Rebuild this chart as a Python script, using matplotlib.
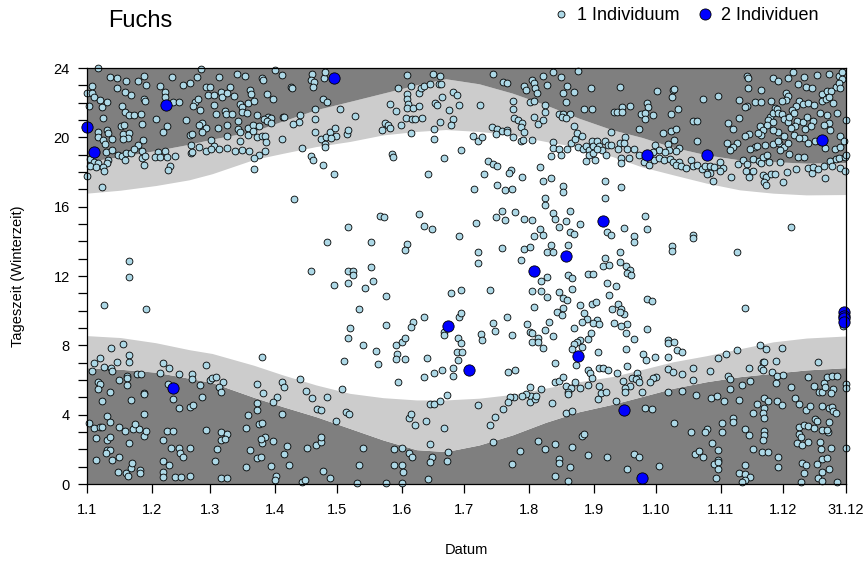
import matplotlib
matplotlib.use("Agg")
import matplotlib.pyplot as plt
from matplotlib.lines import Line2D

# ---------------- axis definitions ----------------
tick_days = [0, 31, 59, 90, 120, 151, 181, 212, 243, 273, 304, 334, 364]
tick_labels = ["1.1", "1.2", "1.3", "1.4", "1.5", "1.6", "1.7", "1.8", "1.9",
               "1.10", "1.11", "1.12", "31.12"]
hour_major = [0, 4, 8, 12, 16, 20, 24]
hour_labels = ["0", "4", "8", "12", "16", "20", "24"]

# ---------------- twilight bands ----------------
band_days = [0, 16, 33, 49, 60, 80, 94, 110, 126, 142, 158, 172, 188, 204,
             220, 236, 252, 266, 281, 297, 313, 329, 345, 364]
dawn = [6.71, 6.62, 6.45, 6.1, 5.85, 5.0, 4.46, 3.88, 3.21, 2.54, 1.98, 1.87,
        2.25, 2.83, 3.56, 4.17, 4.6, 5.04, 5.52, 5.9, 6.19, 6.39, 6.58, 6.71]
sunrise = [8.56, 8.45, 8.15, 7.75, 7.53, 6.85, 6.29, 5.71, 5.23, 4.98, 4.85, 4.85,
           4.95, 5.17, 5.53, 5.9, 6.2, 6.6, 7.05, 7.4, 7.8, 8.2, 8.42, 8.54]
sunset = [16.78, 16.95, 17.22, 17.55, 17.9, 18.72, 19.08, 19.47, 19.76, 20.14,
          20.34, 20.45, 20.34, 20.14, 19.76, 19.43, 18.89, 18.3, 17.84, 17.36,
          16.97, 16.78, 16.68, 16.7]
dusk = [18.6, 18.89, 19.24, 19.6, 19.9, 20.35, 20.95, 21.6, 22.07, 22.55, 23.03,
        23.38, 23.09, 22.55, 21.87, 21.1, 20.43, 20.0, 19.43, 18.99, 18.7, 18.6,
        18.51, 18.55]

# ---------------- detections, 1 individual (day of year, hour) ----------------
ind1_winter_evening = [
 (5.4,24.0),(11.0,23.47),(14.5,23.45),(18.5,23.24),(24.3,23.24),(27.5,23.53),(40.6,23.49),(52.6,23.47),(54.5,23.95),(63.4,23.49),(71.9,23.66),(75.9,23.55),
 (2.6,22.97),(14.5,22.83),(28.3,23.03),(35.1,22.97),(46.0,23.03),(49.4,23.16),(56.9,22.93),(58.9,22.89),(68.4,22.93),(78.4,22.74),(64.1,22.62),(37.4,22.6),(0.2,22.55),(18.2,22.6),
 (2.2,22.53),(3.5,22.3),(6.4,22.18),(9.4,22.03),(58.1,22.47),(60.7,22.43),(64.9,22.35),(67.3,22.57),(70.5,22.39),(78.6,22.49),(21.1,22.43),(27.3,22.24),(27.8,22.12),(37.2,22.32),(41.2,22.01),(44.3,22.05),(51.8,22.03),(53.4,22.2),(61.0,21.87),(73.3,21.95),(77.3,21.97),(1.0,21.78),(7.3,21.74),(16.6,21.8),(50.8,21.8),
 (54.2,21.58),(74.1,21.74),(66.1,21.53),(66.9,21.32),(69.5,21.32),(62.0,21.37),(74.1,21.47),(76.8,21.39),(18.4,21.49),(20.1,21.28),(22.5,21.26),(25.7,21.37),(7.5,21.14),(33.1,21.07),(47.4,20.99),(72.4,20.97),
 (26.5,20.78),(16.1,20.66),(17.7,20.7),(38.2,20.66),(55.3,20.84),(53.7,20.7),(57.2,20.53),(62.9,20.55),(67.1,20.7),(72.2,20.47),(77.3,20.55),(79.6,20.7),(9.4,20.45),(9.9,20.26),(5.4,20.28),(17.1,20.2),(20.3,20.24),(19.5,19.99),(36.6,20.28),(49.4,20.14),(50.5,20.22),(55.0,20.28),(67.1,20.05),(73.3,20.28),(77.3,20.12),(5.1,20.03),
 (7.5,19.84),(26.7,19.87),(12.1,19.9),(17.4,19.89),(8.6,19.59),(24.3,19.55),(59.3,19.85),(73.5,19.76),(49.7,19.53),(53.8,19.45),(60.9,19.51),(67.1,19.39),(8.9,19.18),(12.1,19.28),(15.0,18.99),(16.6,18.95),(18.7,19.08),(21.1,19.08),(26.5,19.22),(26.2,18.8),(22.5,19.32),(28.0,18.91),(33.9,19.18),(32.6,18.89),(35.0,18.87),(37.4,19.22),(38.3,18.89),(42.3,18.95),(49.7,19.07),(50.5,19.18),(56.9,19.22),(59.7,19.32),(63.3,19.32),(70.9,19.24),(74.1,19.28),(77.8,19.24),(18.2,18.7),(10.2,18.7),
 (1.4,18.76),(3.5,18.59),(5.4,18.53),(9.4,18.53),(1.3,18.32),(4.2,18.26),(7.5,18.26),(8.3,18.08),(27.5,18.41),(39.8,18.32),(38.7,18.14),(0.0,17.78),(7.3,17.12),(80.0,18.2),
]
ind1_spring_evening = [
 (90.3,23.87),(83.8,23.45),(84.6,23.3),(93.7,23.59),(107.8,23.64),(107.4,23.32),(109.0,23.18),(108.6,22.93),(113.7,23.43),(114.3,23.78),(97.7,22.91),(98.5,22.84),(86.5,22.51),(89.2,22.2),(80.3,22.07),(113.3,22.2),(115.3,22.01),(109.4,21.62),(121.5,21.62),(128.7,21.22),(102.2,21.3),(101.5,20.91),(98.6,20.76),(93.9,21.18),(94.7,21.16),(87.0,21.2),(88.1,21.12),(84.9,21.05),(86.2,20.95),(88.1,20.85),(81.4,21.3),(82.7,20.68),(109.5,21.05),(109.4,20.3),(79.5,20.37),(81.6,20.01),(83.8,20.05),(85.4,20.09),(85.7,19.72),(93.7,19.89),(112.2,19.91),(114.5,20.03),(116.5,20.28),(118.8,20.51),(119.6,20.05),(117.0,19.99),(114.3,19.6),(114.1,19.47),(124.5,20.22),(125.2,20.41),(103.3,19.37),(85.4,19.24),(82.4,18.99),(80.3,18.8),(107.6,18.95),(108.6,18.68),(113.3,18.39),(118.6,17.87),(99.4,16.43),
 (141.6,20.41),(142.9,20.82),(144.2,20.74),(145.4,20.51),(145.3,21.91),(148.2,21.53),(149.3,22.86),(153.4,23.59),(153.3,22.49),(153.6,22.2),(153.9,21.93),(153.3,21.72),(156.5,21.68),(159.4,21.78),(152.8,21.1),(155.7,21.07),(157.4,21.05),(160.5,21.1),(155.5,22.97),(159.2,22.57),(160.1,22.86),(161.6,22.99),(164.5,23.05),(165.7,23.64),(169.4,23.55),(168.6,23.07),(169.6,23.07),(170.2,22.32),(166.9,21.97),(167.7,21.89),(169.3,20.87),(150.7,20.72),(155.5,20.24),(166.5,20.49),(166.4,19.89),(146.3,19.05),(146.6,18.89),(171.3,18.8),(163.7,17.87),
]
ind1_summer_evening = [
 (194.5,23.64),(199.7,23.18),(201.6,23.12),(209.6,22.99),(210.5,22.72),(213.6,23.32),(214.5,23.16),(214.8,22.87),(215.6,22.55),(218.8,23.55),(220.7,23.01),(223.6,23.76),(227.5,23.49),(235.6,23.8),(230.0,22.97),(228.4,22.55),(233.5,22.6),(241.7,22.84),(255.6,22.91),(229.5,22.01),(212.4,22.03),(214.5,22.09),(204.5,22.09),(204.5,21.62),(219.6,21.87),(219.6,21.49),(238.5,21.62),(242.0,21.62),(252.7,21.49),(254.4,21.49),(256.4,21.74),(256.7,21.49),(260.5,21.8),(265.9,21.35),(264.8,20.49),(226.5,21.35),(228.4,21.35),(231.8,21.37),(227.6,21.2),(229.7,21.09),(233.7,20.68),(175.7,22.6),(177.6,22.47),(178.6,21.87),(173.6,21.58),(188.6,21.87),(175.7,21.05),(174.6,20.7),(204.9,21.09),(206.5,20.99),(208.8,20.84),(208.0,20.6),(214.5,21.16),(216.4,20.78),(218.7,21.01),(194.4,20.62),(196.8,20.49),(198.9,20.39),(201.4,20.45),(201.6,20.28),(196.0,20.2),(209.7,20.28),(185.0,20.07),(187.7,19.8),(189.6,20.01),(204.5,20.01),(208.0,19.78),(209.2,19.82),(213.6,19.84),(179.4,19.28),(223.6,19.74),(222.5,18.93),(223.6,19.39),(226.3,19.32),(227.3,18.97),(230.0,19.32),(232.1,19.66),(234.0,19.89),(234.8,20.24),(237.2,20.09),
 (235.6,19.43),(237.7,19.32),(239.1,19.51),(240.7,19.28),(242.0,19.78),(242.8,19.51),(244.4,19.78),(245.7,19.51),(246.8,19.28),(248.4,19.78),(249.7,19.55),(251.3,19.55),(248.7,18.99),(243.6,18.7),(239.4,18.63),(240.7,18.99),(242.8,19.08),(244.4,19.32),
 (251.3,20.32),(255.6,19.66),(258.0,20.01),(257.5,19.7),(254.8,19.32),(258.8,19.32),(262.4,19.32),(264.8,18.99),(256.0,18.8),(260.0,18.8),(255.9,18.51),(192.5,18.66),(194.5,18.49),(196.8,18.32),(203.2,18.12),(202.4,17.97),(190.5,17.87),(208.8,17.7),(217.4,18.28),(222.5,17.64),(218.8,17.47),(196.8,17.26),(200.5,16.97),(203.6,17.03),(185.8,17.03),(228.4,17.22),(228.4,16.84),(248.5,17.49),(255.9,17.12),(248.5,16.51),(219.6,16.49),(219.6,16.1),
]
ind1_autumn_evening = [
 (338.7,23.76),(349.9,23.62),(355.9,23.66),(360.7,23.55),(362.3,23.78),(362.3,23.37),(316.3,23.51),(317.1,23.45),(328.8,23.41),(331.5,23.24),(336.3,23.45),(344.0,23.47),(340.8,23.07),(344.6,22.93),(347.5,22.86),(359.0,22.89),(360.6,23.16),(316.8,22.84),(323.0,22.74),(273.5,22.7),(280.9,22.72),(281.5,22.78),(280.4,22.35),(295.6,22.2),(302.7,22.39),(335.0,22.55),(336.3,22.39),(335.2,22.16),(352.3,22.49),(354.7,22.68),(356.7,22.68),(361.0,22.84),(268.4,21.97),(269.0,21.76),(283.6,21.62),(279.9,21.35),(312.6,22.14),(316.3,21.82),(315.5,21.76),(320.5,22.03),(323.3,22.03),(327.8,22.07),(329.9,21.68),(333.1,22.07),(341.6,22.1),(340.0,21.82),(343.5,21.91),(345.9,21.97),(348.6,21.84),(352.7,22.1),(354.3,22.2),(355.9,22.32),(357.9,21.97),
 (267.4,21.39),(267.4,21.05),(271.6,21.28),(290.8,20.95),(292.7,20.95),(307.5,20.85),(309.9,20.47),(312.6,21.09),(327.5,21.2),(329.1,21.43),(330.7,21.66),(331.5,21.39),(333.1,21.34),(326.7,21.01),(329.1,20.91),(325.9,20.72),(334.2,21.05),(336.3,20.91),(337.9,21.58),(336.8,21.2),(339.3,21.39),(340.3,20.97),(343.2,20.89),(345.1,21.2),(348.0,20.95),(347.0,20.66),(344.3,20.47),(339.5,20.68),(337.4,20.53),(351.5,21.39),(355.1,21.3),(355.9,20.85),(359.9,21.43),(356.3,20.45),(353.5,20.7),(363.8,20.99),(361.0,20.05),(322.7,20.66),(324.3,20.45),(323.0,20.14),(321.9,20.24),(317.4,20.2),(315.5,20.05),(307.1,19.7),(311.5,19.66),(309.6,19.43),(308.3,19.28),(276.1,20.24),(280.1,20.39),(282.5,20.47),(292.7,19.8),(278.8,19.62),(281.5,19.85),(284.0,19.37),(282.5,19.2),(279.3,19.28),(272.4,19.55),(274.5,19.28),(277.2,19.18),(271.3,19.16),
 (267.1,18.6),(269.7,18.39),(272.1,18.7),(274.5,18.82),(276.9,18.7),(279.6,18.76),(281.2,18.6),(284.0,18.6),(282.5,18.41),(284.8,18.32),(287.2,18.22),(289.6,18.7),(290.4,18.36),(292.7,18.41),(294.8,18.18),(296.4,18.36),(298.7,18.32),(300.8,18.28),(303.5,18.55),(304.8,18.22),(303.5,18.03),(298.7,17.93),(300.0,17.49),(297.1,17.87),(308.7,17.7),(312.3,18.47),(314.7,18.7),(316.6,18.47),(319.5,18.74),(322.2,18.66),(323.0,18.51),(324.0,18.86),(316.0,18.03),(319.5,18.07),(317.6,17.7),(324.0,17.84),(325.6,17.74),(324.6,17.45),(325.6,17.24),(327.8,17.89),(329.9,17.87),(333.6,17.43),(335.5,18.01),(340.0,18.18),(327.2,18.59),(332.3,18.6),(336.8,19.01),(340.8,18.89),(343.8,18.86),(345.9,18.22),(347.5,17.97),(348.3,18.28),(350.7,18.16),(353.5,18.36),(356.3,18.66),(359.1,18.74),(360.6,18.8),(353.9,17.64),(357.5,18.32),(361.0,18.22),(363.4,18.07),(325.1,19.57),(328.8,19.62),(332.0,19.66),(334.2,19.43),(336.3,19.7),(332.3,19.28),(325.9,18.99),(320.3,19.47),(321.1,19.51),(317.9,19.32),(343.8,19.95),(345.9,19.7),(349.0,19.76),(353.9,19.41),(358.7,19.34),(363.4,18.89),(362.9,19.76),(361.0,19.47),(364.0,18.99),(339.2,20.14),(341.6,19.95),(334.4,20.05),(331.5,20.28),(328.8,20.43),(331.5,19.76),
]
ind1_daytime = [
 (20.3,12.85),(20.3,11.93),(8.3,10.33),(28.3,10.08),(11.3,7.83),(17.4,8.06),
 (140.5,15.47),(142.4,15.39),(159.4,15.58),(161.6,14.87),(165.4,14.7),(125.3,14.81),(115.3,13.95),(136.3,13.95),(153.6,13.83),(152.6,13.5),(107.6,12.27),(125.3,12.27),(127.7,12.27),(127.7,12.06),(136.3,12.5),(118.6,11.47),(125.3,11.58),(133.5,11.31),(137.3,11.7),(143.5,10.83),(130.6,10.08),(161.7,9.62),(126.3,8.98),(125.3,8.41),(143.5,9.16),(156.5,9.33),(155.5,9.04),(132.5,8.02),(138.7,7.66),(148.3,8.02),(150.9,8.22),(152.6,8.43),(148.5,7.48),(171.3,8.79),(171.3,8.6),
 (198.9,15.73),(196.0,15.39),(200.6,15.22),(205.4,15.68),(209.7,15.27),(213.6,15.22),(223.6,15.64),(224.6,15.27),(226.5,14.81),(229.8,15.16),(231.8,15.73),(231.6,14.56),(233.7,14.41),(236.6,14.98),(249.5,14.56),(251.4,14.35),(257.6,14.75),(262.4,14.31),(262.4,13.95),(186.6,15.06),(178.6,14.29),(187.7,13.37),(187.7,12.73),(198.9,13.6),(209.6,13.56),(212.6,13.68),(214.5,14.29),(217.4,14.7),(218.8,14.37),(208.1,12.93),(220.4,13.37),(222.5,13.79),(223.6,13.37),(230.8,13.77),(220.7,11.95),(217.5,11.72),(213.6,11.14),(217.5,11.14),(220.7,10.79),(214.5,10.23),(226.5,11.06),(228.4,10.72),(230.0,10.64),(230.8,12.06),(232.7,11.87),(232.7,11.25),(240.4,12.1),(242.8,12.1),(248.5,13.02),(247.6,12.6),(250.5,12.62),(255.6,13.37),(255.7,12.79),(258.4,12.6),(260.5,12.35),(258.8,12.16),(260.7,12.06),(249.5,11.58),(250.5,10.91),(253.8,11.43),(254.8,10.37),(255.9,10.1),(257.6,9.79),(251.6,10.08),(255.6,9.91),(242.0,10.37),(243.9,10.48),(236.6,10.33),(238.5,9.85),(239.6,9.52),(237.5,9.33),(244.4,9.47),(242.8,9.27),(245.7,9.22),(258.8,9.23),(255.9,9.12),(252.9,9.27),(258.6,8.7),(262.3,8.37),(258.4,7.79),(225.4,9.91),(228.4,10.14),(227.6,9.75),(221.7,9.37),(219.6,8.87),(223.6,8.54),(210.8,9.23),(212.6,8.77),(213.6,8.72),(216.4,8.41),(213.6,8.22),(216.4,8.18),(218.7,7.83),(233.7,8.98),(236.4,8.31),(234.8,8.22),(233.7,8.06),(232.7,7.79),(237.2,7.93),(240.1,8.37),(241.7,8.7),(203.6,8.6),(201.6,9.64),(194.5,9.27),(195.7,8.83),(188.8,8.68),(189.6,8.31),(193.3,11.18),(174.6,11.04),(179.4,11.18),(178.6,9.66),(179.4,9.87),(178.1,8.41),(179.4,8.12),(177.6,7.64),(179.7,7.64),(244.9,7.64),
 (267.8,15.45),(268.7,14.7),(290.8,14.37),(290.8,14.18),(280.7,13.75),(280.7,13.45),(311.8,13.37),(337.7,14.81),(268.7,10.66),(270.8,10.58),(315.7,10.14),(268.7,8.93),(278.8,8.29),(278.8,8.14),(281.5,8.22),(282.8,7.73),(285.5,7.62),(266.5,7.48),(322.7,8.02),(325.6,7.77),(333.1,7.83),(311.8,7.72),(306.4,7.48),(362.6,9.12),
]
ind1_winter_morning = [
 (20.3,7.44),(20.3,7.02),(6.2,7.25),(3.5,6.96),(8.3,6.73),(11.3,6.67),(11.8,6.52),(14.4,7.06),(2.6,6.52),(15.5,6.0),(19.0,6.25),(19.0,6.1),(19.3,5.71),(5.4,5.9),(6.2,5.75),(5.4,5.48),(11.2,5.29),(7.3,4.79),(21.1,4.85),(24.1,6.33),(25.7,6.33),(27.5,5.27),(27.5,5.19),(36.6,6.96),(39.5,6.67),(35.1,6.39),(38.9,5.75),(41.4,4.9),(44.2,6.33),(44.2,4.4),(50.2,6.33),(50.3,6.04),(49.4,4.42),(50.6,4.56),(54.3,5.71),(55.3,5.0),(57.2,6.87),(58.9,6.0),(60.1,6.1),(61.7,6.15),(65.3,5.87),(63.4,5.58),(64.5,5.29),(77.3,3.98),(76.2,3.21),(78.3,1.96),(76.4,0.98),(9.4,3.94),(11.0,3.6),(1.1,3.5),(3.5,3.21),(6.2,3.29),(7.0,3.29),(4.3,2.63),(9.4,2.54),(11.0,2.73),(15.5,3.31),(18.2,3.06),(22.2,3.17),(24.9,3.17),(27.5,2.79),(28.3,3.06),(23.0,3.48),(27.5,4.02),(20.3,2.35),(9.4,1.96),(11.0,1.96),(8.9,1.77),(4.3,1.39),(11.8,1.39),(15.5,1.54),(15.0,0.71),(18.7,0.62),(21.1,0.9),(19.5,0.48),(21.4,1.19),(25.4,0.81),(25.4,0.65),(36.6,2.54),(38.5,3.06),(41.4,3.06),(36.6,1.33),(39.5,1.1),(36.6,0.71),(36.6,0.42),(40.3,2.06),(44.2,2.06),(44.7,1.77),(46.2,1.58),(49.4,2.06),(42.2,0.42),(45.0,0.39),(49.4,0.46),(57.2,3.12),(64.1,2.98),(67.3,2.87),(64.1,2.54),(66.1,2.58),(62.5,2.02),(61.5,1.33),(64.1,0.33),(67.3,0.33),
]
ind1_spring_morning = [
 (83.8,7.31),(148.2,7.19),(152.5,7.19),(162.9,7.25),(139.7,6.9),(123.4,7.1),(170.4,6.58),(166.5,6.39),(161.7,6.15),(149.3,5.87),(102.2,6.04),(93.7,5.87),(94.7,5.58),(81.7,5.75),(84.6,5.23),(91.3,5.04),(89.4,4.71),(104.9,5.37),(107.8,4.94),(115.3,5.04),(122.4,5.46),(81.7,4.65),(81.7,4.25),(93.7,4.02),(110.5,4.33),(112.2,4.25),(124.2,4.14),(125.5,4.02),(119.6,3.62),(82.7,3.44),(83.8,3.5),(85.4,2.71),(83.8,2.35),(83.5,2.6),(89.4,2.48),(81.7,1.48),(83.5,1.58),(95.8,2.19),(94.7,1.71),(96.7,1.1),(88.4,1.04),(90.5,0.46),(90.2,0.23),(105.7,2.06),(109.7,2.25),(112.2,2.42),(112.2,2.71),(113.3,0.75),(116.7,0.33),(103.3,0.13),(104.7,0.23),(132.5,2.06),(130.6,1.1),(129.6,0.08),(143.5,0.08),(150.9,0.08),(147.2,2.0),(150.9,2.06),(154.6,1.79),(155.7,1.56),(147.2,1.1),(150.9,1.1),(151.7,0.67),(163.7,0.27),(164.6,2.31),(165.4,1.58),(164.6,1.25),(172.9,1.83),(172.5,1.33),(154.6,3.79),(155.5,4.04),(157.3,3.38),(162.5,3.62),(171.3,3.23),(164.6,4.64),(166.5,4.6),(169.3,4.79),(172.6,5.14),
]
ind1_summer_morning = [
 (177.8,7.15),(175.7,6.67),(175.7,6.25),(224.4,7.0),(234.6,6.87),(201.7,6.48),(205.2,6.58),(240.4,6.58),(241.2,6.39),(242.0,6.1),(245.5,6.67),(247.6,6.67),(249.7,6.56),(254.0,6.39),(258.8,6.81),(263.9,6.39),(264.4,6.1),(257.2,5.94),(260.4,5.67),(258.0,5.56),(258.0,5.33),(261.2,6.1),(263.2,6.04),(264.7,5.87),(224.4,5.9),(226.5,5.94),(228.4,6.15),(229.8,5.67),(231.9,5.56),(234.0,5.9),(236.4,5.52),(240.4,5.71),(245.7,5.63),(246.5,5.23),(248.7,5.29),(244.9,4.9),(230.8,5.33),(230.8,5.17),(217.5,5.46),(212.4,5.62),(212.9,5.1),(212.4,4.71),(210.5,5.17),(214.8,4.9),(215.3,5.1),(208.4,5.1),(204.9,5.04),(202.9,5.04),(202.1,4.75),(187.7,4.56),(199.7,4.31),(195.7,3.85),(193.3,3.4),(222.8,4.65),(229.7,4.08),(232.7,4.23),(253.6,4.81),(194.5,2.44),(216.4,2.48),(207.8,1.89),(219.6,2.0),(224.4,2.29),(232.7,2.13),(237.5,2.79),(238.5,2.87),(240.4,1.67),(249.5,1.54),(262.4,1.71),(264.8,1.54),(226.5,1.42),(226.5,1.19),(231.8,0.96),(203.6,1.15),(224.4,0.46),(230.8,0.17),(258.8,0.85),
]
ind1_autumn_morning = [
 (268.1,7.15),(272.4,7.31),(278.8,7.35),(302.7,7.25),(324.0,7.06),(324.8,7.06),(330.4,7.1),(350.7,7.06),(290.8,6.71),(298.7,6.52),(278.8,6.63),(280.9,6.48),(285.5,6.33),(317.6,6.71),(323.0,6.67),(324.0,6.58),(328.6,6.48),(330.7,6.23),(333.9,6.29),(330.4,5.81),(307.5,6.23),(308.5,6.04),(313.9,5.69),(317.9,5.94),(290.8,6.0),(285.5,5.37),(278.8,5.33),(291.9,5.14),(272.7,6.15),(271.6,6.1),(270.0,5.87),(266.0,5.33),(299.2,4.98),(302.0,5.1),(305.6,4.79),(308.5,5.48),(312.8,4.83),(337.7,5.58),(345.9,6.15),(348.8,5.63),(351.0,5.33),(353.5,5.85),(355.1,6.19),(357.4,6.23),(359.5,6.23),(357.9,5.46),(356.7,5.23),(352.7,5.33),(353.9,5.6),(363.8,5.75),(363.8,5.52),(339.5,4.98),(341.6,4.6),(344.8,4.27),(346.7,4.52),(349.1,3.75),(352.6,4.5),(356.0,4.4),(357.5,4.44),(357.9,4.21),(359.1,4.12),(356.0,3.56),(267.6,4.37),(270.8,4.31),(324.6,4.94),(326.7,4.79),(330.7,4.79),(333.1,4.56),(321.1,4.6),(324.8,4.37),(324.0,4.08),(324.8,3.83),(319.5,4.08),(309.6,3.79),(309.9,3.6),(304.7,3.5),(304.7,2.98),(297.1,3.15),(296.4,3.02),(289.6,2.98),(281.5,3.5),(315.7,3.17),(317.6,2.83),(324.6,3.06),(324.6,2.83),(324.0,2.52),(341.6,3.31),(343.8,3.4),(345.9,3.37),(348.6,3.25),(341.6,2.87),(342.2,2.71),(340.3,2.35),(342.7,2.25),(345.9,2.4),(349.9,3.63),(352.7,3.12),(355.5,2.98),(355.1,3.12),(351.5,2.44),(351.8,2.02),(356.7,2.06),(363.8,2.06),(299.9,2.35),(302.7,1.94),(291.6,1.71),(293.6,1.9),(295.6,1.56),(300.7,1.14),(302.7,1.39),(302.7,1.25),(302.7,0.87),(301.6,0.37),(319.5,2.0),(323.8,1.87),(326.7,1.83),(331.5,1.54),(331.5,0.96),(315.7,1.1),(312.6,0.62),(315.7,0.56),(318.2,0.42),(315.5,0.23),(313.9,0.13),(274.5,1.04),(342.7,1.19),(344.8,1.1),(344.0,0.65),(349.9,1.15),(352.7,1.42),(355.1,1.48),(352.6,0.71),(356.0,0.85),(350.7,0.33),(352.6,0.17),(342.4,0.1),(359.8,0.13),
]

# ---------------- detections, 2 individuals ----------------
ind2_day = [0.0, 3.4, 37.7, 118.6, 268.7, 297.5, 352.4, 173.2, 247.6, 229.8, 214.5,
            235.6, 183.2, 257.5, 266.3, 41.4, 363.0, 363.0, 363.0, 363.0]
ind2_hour = [20.6, 19.16, 21.87, 23.41, 18.97, 18.99, 19.85, 9.12, 15.18, 13.14, 12.29,
             7.39, 6.58, 4.25, 0.33, 5.52, 9.95, 9.72, 9.56, 9.37]

legend_labels = ["1 Individuum", "2 Individuen"]

# ---------------- drawing ----------------
plt.rcParams['font.family'] = ['Liberation Sans', 'DejaVu Sans']
DARK = '#7f7f7f'
LIGHT = '#cccccc'
C1 = '#add8e6'
C2 = '#0000ff'

W, H = 867, 563
fig = plt.figure(figsize=(W / 100, H / 100), dpi=100)
ax = fig.add_axes([87 / W, 1 - 484 / H, (846 - 87) / W, (484 - 68) / H])
ax.set_xlim(tick_days[0], tick_days[-1])
ax.set_ylim(0, 24)

ax.fill_between(band_days, 0, dawn, color=DARK, lw=0, zorder=1)
ax.fill_between(band_days, dawn, sunrise, color=LIGHT, lw=0, zorder=1)
ax.fill_between(band_days, sunset, dusk, color=LIGHT, lw=0, zorder=1)
ax.fill_between(band_days, dusk, 24, color=DARK, lw=0, zorder=1)

ind1 = (ind1_winter_evening + ind1_spring_evening + ind1_summer_evening +
        ind1_autumn_evening + ind1_daytime + ind1_winter_morning +
        ind1_spring_morning + ind1_summer_morning + ind1_autumn_morning)
d1 = [p[0] for p in ind1]
h1 = [p[1] for p in ind1]
ax.scatter(d1, h1, s=24, c=C1, edgecolors='black', linewidths=0.6,
           zorder=3, clip_on=False)
ax.scatter(ind2_day, ind2_hour, s=66, c=C2, edgecolors='black', linewidths=0.6,
           zorder=4, clip_on=False)

for sp in ax.spines.values():
    sp.set_linewidth(0.9)
    sp.set_zorder(5)

ax.set_xticks(tick_days, tick_labels)
ax.set_yticks(hour_major, hour_labels)
ax.set_yticks(range(0, 25), minor=True)
ax.tick_params(axis='both', which='both', direction='out', length=6.5,
               width=0.9, colors='black', labelsize=10.5)
ax.tick_params(axis='x', pad=7)
ax.tick_params(axis='y', pad=6)

fig.text(466 / W, 1 - 550 / H, "Datum", ha='center', va='center', fontsize=10.5)
fig.text(18 / W, 1 - 276 / H, "Tageszeit (Winterzeit)", ha='center', va='center',
         rotation=90, fontsize=10.5)
fig.text(108 / W, 1 - 21 / H, "Fuchs", ha='left', va='center', fontsize=17)

handles = [
    Line2D([], [], ls='none', marker='o', markersize=5.0, markerfacecolor=C1,
           markeredgecolor='black', markeredgewidth=0.6),
    Line2D([], [], ls='none', marker='o', markersize=8.0, markerfacecolor=C2,
           markeredgecolor='black', markeredgewidth=0.6),
]
fig.legend(handles, legend_labels, loc='center left',
           bbox_to_anchor=(552 / W, 1 - 16 / H), ncol=2, frameon=False,
           fontsize=13, handletextpad=0.4, columnspacing=0.9, handlelength=1.0,
           borderpad=0, borderaxespad=0)

fig.savefig("out.png", dpi=100)
